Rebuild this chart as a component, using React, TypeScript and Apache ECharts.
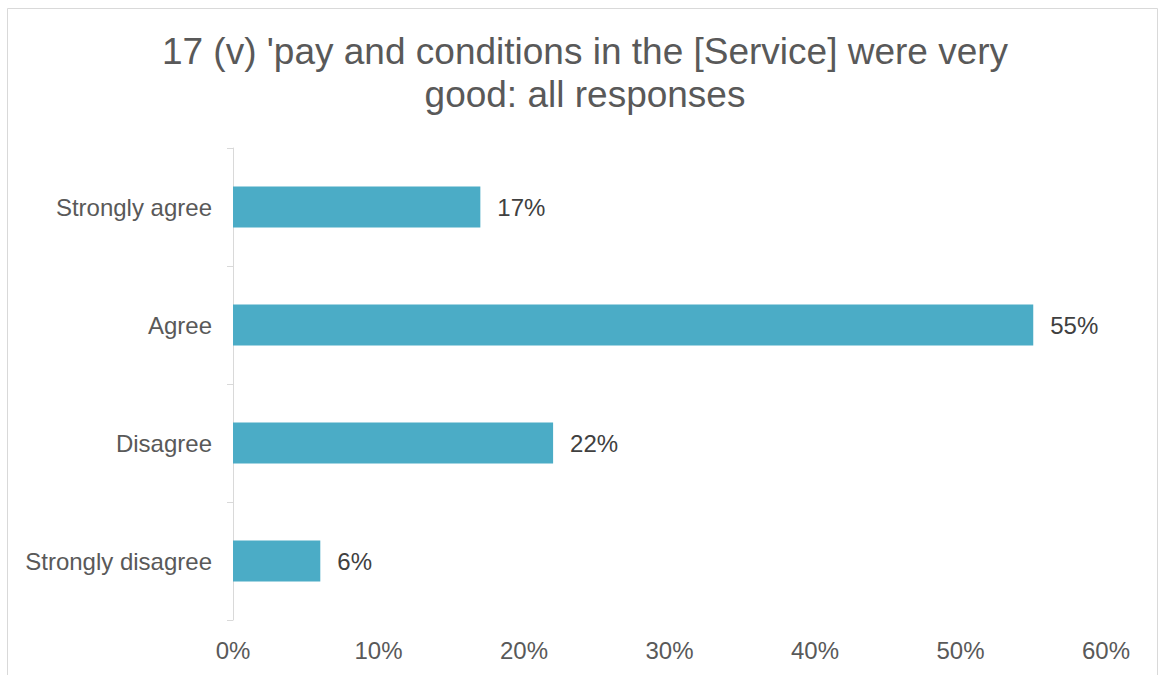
import React, { useEffect, useRef } from "react";
import * as echarts from "echarts";

const titleText = "17 (v) 'pay and conditions in the [Service] were very\ngood: all responses";
const categories = ["Strongly agree", "Agree", "Disagree", "Strongly disagree"];
const values = [17, 55, 22, 6];
const xTicks = [0, 10, 20, 30, 40, 50, 60];

export default function App() {
  const ref = useRef<HTMLDivElement>(null);
  useEffect(() => {
    if (!ref.current) return;
    const chart = echarts.init(ref.current, undefined, { renderer: "svg" });
    const font = "'Liberation Sans', Arial, sans-serif";
    chart.setOption({
      animation: false,
      backgroundColor: "#ffffff",
      textStyle: { fontFamily: font },
      graphic: [
        {
          type: "rect",
          shape: { x: 7.5, y: 8.5, width: 1150, height: 700 },
          style: { fill: "none", stroke: "#d9d9d9", lineWidth: 1 },
          silent: true,
        },
        {
          type: "text",
          x: 585,
          y: 30,
          style: {
            text: titleText,
            fill: "#595959",
            font: `37px ${font}`,
            textAlign: "center",
            textVerticalAlign: "top",
            lineHeight: 43,
          },
        },
      ],
      grid: { left: 233, right: 54, top: 148, bottom: 55, containLabel: false },
      xAxis: {
        type: "value",
        min: xTicks[0],
        max: xTicks[xTicks.length - 1],
        interval: 10,
        axisLine: { show: false },
        axisTick: { show: false },
        splitLine: { show: false },
        axisLabel: {
          formatter: "{value}%",
          color: "#595959",
          fontSize: 24,
          margin: 18,
          fontFamily: font,
        },
      },
      yAxis: {
        type: "category",
        data: categories,
        inverse: true,
        axisLine: { show: true, lineStyle: { color: "#d9d9d9", width: 1 } },
        axisTick: { show: true, length: 6, lineStyle: { color: "#d9d9d9" } },
        splitLine: { show: false },
        axisLabel: { color: "#595959", fontSize: 24, margin: 21, fontFamily: font },
      },
      series: [
        {
          type: "bar",
          data: values,
          barWidth: 41,
          itemStyle: { color: "#4bacc6" },
          label: {
            show: true,
            position: "right",
            distance: 17,
            formatter: "{c}%",
            color: "#404040",
            fontSize: 24,
            fontFamily: font,
          },
        },
      ],
    });
    return () => chart.dispose();
  }, []);
  return (
    <div
      ref={ref}
      style={{ position: "absolute", left: 0, top: 0, width: 1160, height: 675 }}
    />
  );
}
